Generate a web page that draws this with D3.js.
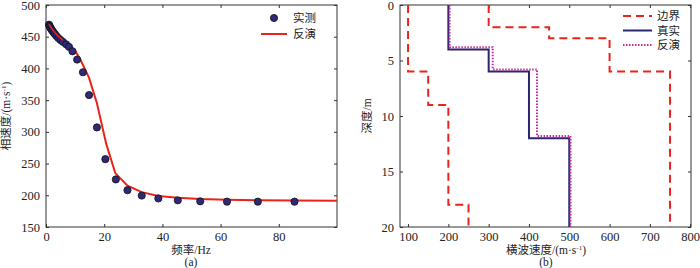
<!DOCTYPE html>
<html lang="zh">
<head>
  <meta charset="UTF-8">
  <title>频散曲线与横波速度反演</title>
  <script src="https://d3js.org/d3.v7.min.js"></script>
  <style>
    body { margin: 0; background: #fff; }
    svg text {
      font-family: "Liberation Serif", "Noto Sans CJK SC", serif;
      font-size: 11.5px;
      fill: #222;
    }
    .axis path, .axis line { stroke: #333; }
    .axis text { font-size: 12.5px; }
  </style>
</head>
<body>
  <div id="chart"></div>
  <script>
    // (a) measured dispersion points
    const measFreq = [1.03, 1.2, 1.41, 1.65, 1.93, 2.26, 2.64, 3.09, 3.61, 4.23, 4.95, 5.79, 6.9, 7.9,
                      9.1, 10.7, 12.7, 14.8, 17.5, 20.4, 24.0, 28.0, 32.9, 38.6, 45.3, 53.0, 62.2, 72.8, 85.4];
    const measVel  = [469, 467, 465, 463, 461, 459, 456.5, 454, 451, 448, 445, 442, 438, 434,
                      427, 414, 394, 358, 307, 257, 225, 208, 199.5, 195, 192, 190.5, 190, 190, 190];
    // (a) inverted dispersion curve
    const invFreq = [1.03, 2.0, 3.0, 4.2, 5.8, 7.9, 10.0, 11.8, 14.8, 17.5, 20.7, 23.8, 28.0, 32.9,
                     38.6, 45.3, 53.0, 62.2, 72.8, 85.4, 100];
    const invVel  = [470, 463, 457, 451, 445, 437, 428, 414, 385, 345, 281, 235, 215, 205,
                     199, 196, 194, 193, 192.3, 191.8, 191.3];

    // (b) layered profiles: velocity per layer and layer bottom depth
    const depthTop = 0;
    const lowVel = [100, 150, 200, 250],  lowBottom = [6, 9, 18, 20];
    const upVel  = [300, 450, 600, 750],  upBottom  = [2, 3, 6, 20];
    const trueVel = [200, 300, 400, 500], trueBottom = [4, 6, 12, 20];
    const estVel  = [203, 310, 420, 503], estBottom  = [3.8, 5.8, 11.8, 20];

    const xTicksA = [0, 20, 40, 60, 80];
    const yTicksA = [150, 200, 250, 300, 350, 400, 450, 500];
    const xTicksB = [100, 200, 300, 400, 500, 600, 700, 800];
    const yTicksB = [0, 5, 10, 15, 20];

    const W = 700, H = 268;
    const svg = d3.select("#chart").append("svg")
      .attr("width", W).attr("height", H);

    const red = "#e8241c", navy = "#2c2470", magenta = "#cc2a96";

    function frame(x, y, xt, yt) {
      const [x0, x1] = x.range();
      const y0 = Math.min(...y.range()), y1 = Math.max(...y.range());
      const g = svg.append("g");
      // bottom / left labelled axes, ticks pointing inward
      g.append("g").attr("class", "axis").attr("transform", `translate(0,${y1})`)
        .call(d3.axisBottom(x).tickValues(xt).tickSize(-3).tickPadding(5).tickSizeOuter(0));
      g.append("g").attr("class", "axis").attr("transform", `translate(${x0},0)`)
        .call(d3.axisLeft(y).tickValues(yt).tickSize(-3).tickPadding(6).tickSizeOuter(0));
      // mirrored ticks on top / right
      g.append("g").attr("class", "axis").attr("transform", `translate(0,${y0})`)
        .call(d3.axisTop(x).tickValues(xt).tickSize(-3).tickFormat("").tickSizeOuter(0));
      g.append("g").attr("class", "axis").attr("transform", `translate(${x1},0)`)
        .call(d3.axisRight(y).tickValues(yt).tickSize(-3).tickFormat("").tickSizeOuter(0));
      g.append("rect").attr("x", x0).attr("y", y0).attr("width", x1 - x0).attr("height", y1 - y0)
        .attr("fill", "none").attr("stroke", "#333");
      g.selectAll(".domain").remove();
      return g;
    }

    // ---------- (a) ----------
    const xA = d3.scaleLinear().domain([0, 100]).range([46, 337]);
    const yA = d3.scaleLinear().domain([150, 500]).range([227, 5]);
    frame(xA, yA, xTicksA, yTicksA);

    const invPts = invFreq.map((f, i) => [f, invVel[i]]);
    svg.append("path")
      .attr("d", d3.line().x(d => xA(d[0])).y(d => yA(d[1]))(invPts))
      .attr("fill", "none").attr("stroke", red).attr("stroke-width", 2);

    svg.selectAll(".meas").data(measFreq).enter().append("circle")
      .attr("cx", d => xA(d)).attr("cy", (d, i) => yA(measVel[i]))
      .attr("r", 3.6).attr("fill", "#2f2a78").attr("stroke", "#111").attr("stroke-width", 0.8);

    // line shows again over the dense low-frequency cluster
    svg.append("path")
      .attr("d", d3.line().x(d => xA(d[0])).y(d => yA(d[1]))(invPts.slice(0, 5)))
      .attr("fill", "none").attr("stroke", red).attr("stroke-width", 1.5);

    // legend (a)
    svg.append("circle").attr("cx", 274).attr("cy", 18).attr("r", 3.6)
      .attr("fill", "#2f2a78").attr("stroke", "#111").attr("stroke-width", 0.8);
    svg.append("text").attr("x", 293).attr("y", 22).text("实测");
    svg.append("line").attr("x1", 261).attr("x2", 287).attr("y1", 34).attr("y2", 34)
      .attr("stroke", red).attr("stroke-width", 2);
    svg.append("text").attr("x", 293).attr("y", 38).text("反演");

    svg.append("text").attr("x", 191).attr("y", 254).attr("text-anchor", "middle").text("频率/Hz");
    svg.append("text").attr("x", 191).attr("y", 265.5).attr("text-anchor", "middle").text("(a)");
    const ylA = svg.append("text").attr("transform", "translate(10,116) rotate(-90)")
      .attr("text-anchor", "middle");
    ylA.append("tspan").text("相速度/(m·s");
    ylA.append("tspan").attr("dy", -4).attr("font-size", 7).text("-1");
    ylA.append("tspan").attr("dy", 4).text(")");

    // ---------- (b) ----------
    const xB = d3.scaleLinear().domain([80, 802]).range([400, 691]);
    const yB = d3.scaleLinear().domain([0, 20]).range([5, 227]);
    frame(xB, yB, xTicksB, yTicksB);

    function steps(vel, bottom) {
      const pts = [];
      let top = depthTop;
      vel.forEach((v, i) => { pts.push([v, top]); pts.push([v, bottom[i]]); top = bottom[i]; });
      return pts;
    }
    const lineB = d3.line().x(d => xB(d[0])).y(d => yB(d[1]));

    const profiles = [
      { pts: steps(lowVel, lowBottom), color: red, dash: "8,5", w: 2 },
      { pts: steps(upVel, upBottom), color: red, dash: "8,5", w: 2 },
      { pts: steps(trueVel, trueBottom), color: navy, dash: null, w: 2 },
      { pts: steps(estVel, estBottom), color: magenta, dash: "1.5,1.5", w: 2 }
    ];
    profiles.forEach(p => {
      svg.append("path").attr("d", lineB(p.pts))
        .attr("fill", "none").attr("stroke", p.color).attr("stroke-width", p.w)
        .attr("stroke-dasharray", p.dash);
    });

    // legend (b)
    const legB = [["边界", red, "8,5"], ["真实", navy, null], ["反演", magenta, "1.5,1.5"]];
    legB.forEach((d, i) => {
      const y = 16 + i * 14.5;
      svg.append("line").attr("x1", 623).attr("x2", 652).attr("y1", y).attr("y2", y)
        .attr("stroke", d[1]).attr("stroke-width", 2).attr("stroke-dasharray", d[2]);
      svg.append("text").attr("x", 657).attr("y", y + 4).text(d[0]);
    });

    svg.append("text").attr("x", 546).attr("y", 254).attr("text-anchor", "middle")
      .call(t => {
        t.append("tspan").text("横波速度/(m·s");
        t.append("tspan").attr("dy", -4).attr("font-size", 7).text("-1");
        t.append("tspan").attr("dy", 4).text(")");
      });
    svg.append("text").attr("x", 546).attr("y", 265.5).attr("text-anchor", "middle").text("(b)");
    svg.append("text").attr("transform", "translate(371,116) rotate(-90)")
      .attr("text-anchor", "middle").text("深度/m");
  </script>
</body>
</html>
